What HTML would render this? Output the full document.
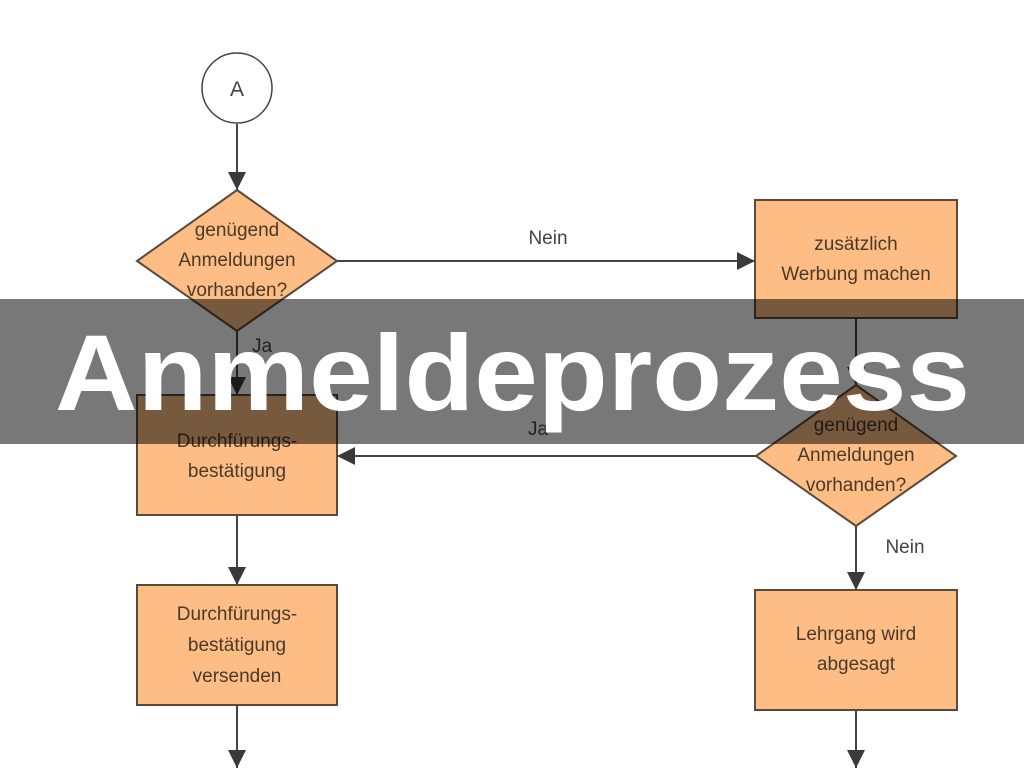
<!DOCTYPE html>
<html><head><meta charset="utf-8"><style>
html,body{margin:0;padding:0;background:#fff;}
svg{display:block;}
</style></head><body>
<svg width="1024" height="768" viewBox="0 0 1024 768" xmlns="http://www.w3.org/2000/svg">
<defs>
<marker id="ar" viewBox="0 0 10 10" refX="10" refY="5" markerWidth="9" markerHeight="9" markerUnits="userSpaceOnUse" orient="auto">
<path d="M0,0 L10,5 L0,10 z" fill="#3a3a3a"/></marker>
<marker id="ar2" viewBox="0 0 10 10" refX="10" refY="5" markerWidth="18" markerHeight="18" markerUnits="userSpaceOnUse" orient="auto">
<path d="M0,0 L10,5 L0,10 z" fill="#3a3a3a"/></marker>
</defs>
<g stroke="#444" stroke-width="2" fill="none">
<line x1="237" y1="124" x2="237" y2="190" marker-end="url(#ar2)"/>
<line x1="337" y1="261" x2="755" y2="261" marker-end="url(#ar2)"/>
<line x1="237" y1="330" x2="237" y2="395" marker-end="url(#ar2)"/>
<line x1="237" y1="515" x2="237" y2="585" marker-end="url(#ar2)"/>
<line x1="237" y1="705" x2="237" y2="768" marker-end="url(#ar2)"/>
<line x1="856" y1="318" x2="856" y2="385" marker-end="url(#ar2)"/>
<line x1="756" y1="456" x2="337" y2="456" marker-end="url(#ar2)"/>
<line x1="856" y1="526" x2="856" y2="590" marker-end="url(#ar2)"/>
<line x1="856" y1="710" x2="856" y2="768" marker-end="url(#ar2)"/>
</g>
<circle cx="237" cy="88" r="35" fill="#fff" stroke="#444" stroke-width="1.5"/>
<g fill="#fdbd84" stroke="#5a4a3a" stroke-width="2">
<polygon points="237,190 337,261 237,331 137,261"/>
<rect x="137" y="395" width="200" height="120"/>
<rect x="137" y="585" width="200" height="120"/>
<rect x="755" y="200" width="202" height="118"/>
<polygon points="856,385 956,456 856,526 756,456"/>
<rect x="755" y="590" width="202" height="120"/>
</g>
<g font-family="Liberation Sans, sans-serif" font-size="19" fill="#4a3a2a" text-anchor="middle">
<text x="237" y="96" font-size="21" fill="#444">A</text>
<text x="237" y="236">genügend</text>
<text x="237" y="266">Anmeldungen</text>
<text x="237" y="296">vorhanden?</text>
<text x="548" y="244" fill="#444">Nein</text>
<text x="262" y="352" fill="#444">Ja</text>
<text x="538" y="435" fill="#444">Ja</text>
<text x="905" y="553" fill="#444">Nein</text>
<text x="237" y="447">Durchfürungs-</text>
<text x="237" y="477">bestätigung</text>
<text x="237" y="620">Durchfürungs-</text>
<text x="237" y="651">bestätigung</text>
<text x="237" y="682">versenden</text>
<text x="856" y="250">zusätzlich</text>
<text x="856" y="280">Werbung machen</text>
<text x="856" y="431">genügend</text>
<text x="856" y="461">Anmeldungen</text>
<text x="856" y="491">vorhanden?</text>
<text x="856" y="640">Lehrgang wird</text>
<text x="856" y="670">abgesagt</text>
</g>
<rect x="0" y="299" width="1024" height="145" fill="rgba(0,0,0,0.53)"/>
<text x="55" y="410" font-family="Liberation Sans, sans-serif" font-weight="bold" font-size="108" fill="#fff" textLength="915" lengthAdjust="spacingAndGlyphs">Anmeldeprozess</text>
</svg>
</body></html>
